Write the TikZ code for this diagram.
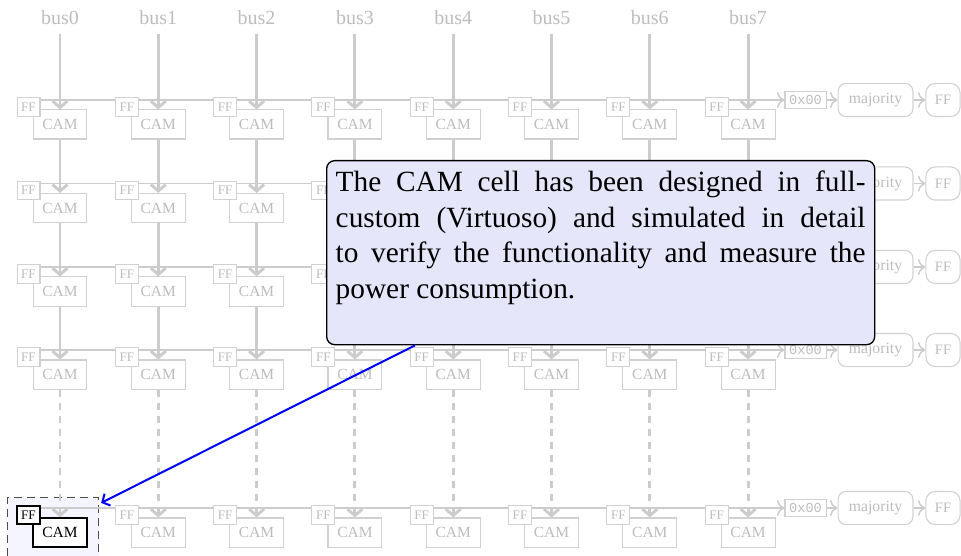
\documentclass[tikz,border=0pt]{standalone}
\usepackage{fontspec}
\setmainfont{Liberation Serif}
\setmonofont{Liberation Mono}
\usetikzlibrary{arrows.meta,backgrounds}
\definecolor{faint}{gray}{0.80}
\definecolor{faintbox}{gray}{0.82}
\definecolor{fainttext}{gray}{0.74}
\definecolor{notefill}{RGB}{230,230,250}
\definecolor{focusfill}{RGB}{245,245,255}
\begin{document}
\begin{tikzpicture}[x=0.375pt,y=-0.375pt,
  buslabel/.style={text=fainttext,inner sep=3pt,font=\fontsize{7.5}{8}\selectfont},
  ffbox/.style={cell,fill=white,inner sep=0pt,minimum width=8.6pt,minimum height=6.8pt,font=\fontsize{4.9}{5}\selectfont},
  cambox/.style={cell,fill=white,inner sep=0pt,minimum width=20.2pt,minimum height=10.9pt,font=\fontsize{5.8}{6}\selectfont},
  hexbox/.style={draw=faintbox,text=fainttext,fill=white,inner sep=0pt,minimum width=15.4pt,minimum height=6.6pt,font=\ttfamily\fontsize{5.1}{6}\selectfont},
  majbox/.style={draw=faintbox,text=fainttext,fill=white,rounded corners=3pt,inner sep=0pt,minimum width=28.1pt,minimum height=12.4pt,font=\fontsize{5.9}{6}\selectfont},
  outbox/.style={draw=faintbox,text=fainttext,fill=white,rounded corners=3.5pt,inner sep=0pt,minimum width=12.8pt,minimum height=12.4pt,font=\fontsize{5.4}{6}\selectfont},
  busarr/.style={draw=faint,line width=1.1pt,-{Straight Barb[length=2.4pt,width=5.6pt]}},
  busdash/.style={busarr,dash pattern=on 2.6pt off 2.3pt},
  rowarr/.style={draw=faint,line width=0.55pt,->},
  note/.style={draw=black,line width=0.5pt,fill=notefill,rounded corners=3pt,inner xsep=3.4pt,inner ysep=3.8pt,anchor=north west},
  focusbox/.style={draw=black!70,dash pattern=on 3pt off 1.9pt,line width=0.5pt,fill=focusfill,inner sep=0pt,minimum width=34.1pt,minimum height=50pt,anchor=north west},
  pointer/.style={draw=blue,line width=0.75pt,-{Straight Barb[length=2.2pt,width=5pt]}}
]
\useasboundingbox (0,0) rectangle (961,556);

% highlighted cell frame
\begin{scope}[on background layer]
  \node[focusbox] (focus) at (7,497) {};
\end{scope}

% bus labels
\foreach \i in {0,...,7}{
  \pgfmathsetmacro\X{60+98.3*\i}
  \node[buslabel] (bus\i) at (\X,18) {bus\i};
}

% array of cells, one row at a time
\foreach \r/\y in {1/100,2/183.5,3/267,4/350,5/508}{
  \foreach \i in {0,...,7}{
    \pgfmathsetmacro\X{60+98.3*\i}
    \pgfmathtruncatemacro\hl{(\r==5)&&(\i==0)}
    \ifnum\hl=1
      \tikzset{cell/.style={draw=black,text=black,line width=0.5pt}}
    \else
      \tikzset{cell/.style={draw=faintbox,text=fainttext,line width=0.4pt}}
    \fi
    \node[cambox] (cam-\r-\i) at (\X,\y+24.5) {CAM};
    \node[ffbox] (ff-\r-\i) at (\X-31.5,\y+7) {FF};
  }
  \node[hexbox] (hex\r) at (805.5,\y) {0x00};
  \node[majbox] (maj\r) at (875.5,\y) {majority};
  \node[outbox] (out\r) at (943,\y) {FF};
  \draw[rowarr] (hex\r) -- (maj\r);
  \draw[rowarr] (maj\r) -- (out\r);
  \begin{scope}[on background layer]
    \draw[rowarr] (ff-\r-0.center |- hex\r.west) -- (hex\r.west);
  \end{scope}
}

% column connections
\foreach \i in {0,...,7}{
  \draw[busarr] (bus\i) -- (cam-1-\i);
  \foreach \r in {2,3,4}{
    \pgfmathtruncatemacro\rp{\r-1}
    \draw[busarr] (cam-\rp-\i) -- (cam-\r-\i);
  }
  \draw[busdash] (cam-4-\i) -- (cam-5-\i);
}

% explanatory note
\node[note] (note) at (326,160) {\parbox[c][61.4pt][t]{198.7pt}{\fontsize{11}{13.4}\selectfont
\makebox[\linewidth][s]{The CAM cell has been designed in full-}\\
\makebox[\linewidth][s]{custom (Virtuoso) and simulated in detail}\\
\makebox[\linewidth][s]{to verify the functionality and measure the}\\
power consumption.}};

\draw[pointer] ([xshift=33.4pt]note.south west) -- ([xshift=0.7pt,yshift=-2.2pt]focus.north east);
\end{tikzpicture}
\end{document}
